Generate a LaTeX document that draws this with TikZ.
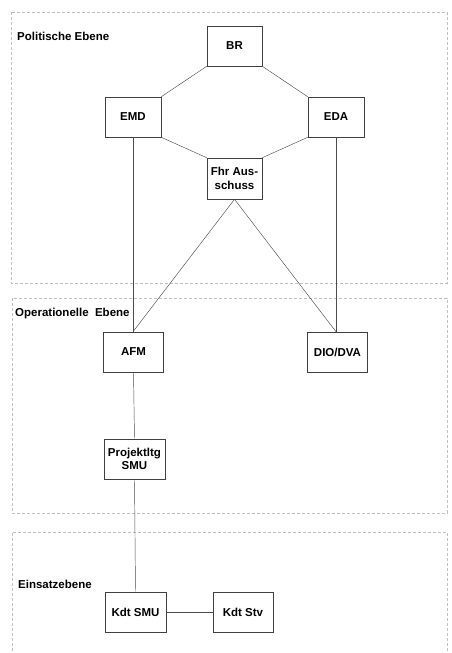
\documentclass[tikz,border=0pt]{standalone}
\usepackage{fontspec}
\setmainfont{Liberation Sans}
\begin{document}
\begin{tikzpicture}[x=1pt,y=-1pt,
  box/.style={draw=black!75,line width=0.55pt,minimum width=56pt,minimum height=40pt,inner sep=1pt,align=center,font=\bfseries\fontsize{11.5}{13.5}\selectfont},
  lvl/.style={anchor=west,inner sep=0pt,font=\bfseries\fontsize{11.5}{13.5}\selectfont},
  conn/.style={draw=black!70,line width=0.45pt},
  sect/.style={draw=black!25,line width=0.4pt,dashed,dash pattern=on 3pt off 2pt}]
\useasboundingbox (0,0) rectangle (451,653);
% sections
\draw[sect] (11,12) rectangle (447,283);
\draw[sect] (12,298) rectangle (447,513);
\draw[sect] (12,651) -- (12,532) -- (447,532) -- (447,653);
% labels
\node[lvl] (l1) at (17,36) {Politische Ebene};
\node[lvl] (l2) at (15,314) {Operationelle\ \ Ebene};
\node[lvl] (l3) at (18,584) {Einsatzebene};
% boxes
\node[box,minimum width=55pt] (br) at (234.5,46) {BR};
\node[box] (emd) at (133,117) {EMD};
\node[box] (eda) at (336,117) {EDA};
\node[box,minimum width=55pt,minimum height=41pt] (fhr) at (234.5,178.5) {Fhr Aus-\\schuss};
\node[box,minimum width=60pt] (afm) at (133.5,352) {AFM};
\node[box,minimum width=60pt] (dio) at (337.5,352) {DIO/DVA};
\node[box,minimum width=61pt] (proj) at (134.5,459) {Projektltg\\SMU};
\node[box,minimum width=61pt] (ksmu) at (135.5,612) {Kdt SMU};
\node[box,minimum width=60pt] (kstv) at (243,612) {Kdt Stv};
% connectors
\draw[conn] (br.south west) -- (emd.north east);
\draw[conn] (br.south east) -- (eda.north west);
\draw[conn] (emd.south east) -- (fhr.north west);
\draw[conn] (eda.south west) -- (fhr.north east);
\draw[conn] (emd.south) -- (emd.south |- afm.north);
\draw[conn] (eda.south) -- (eda.south |- dio.north);
\draw[conn] (fhr.south) -- (emd.south |- afm.north);
\draw[conn] (fhr.south) -- (eda.south |- dio.north);
\draw[conn] (afm.south) -- (proj.north);
\draw[conn] (proj.south) -- (ksmu.north);
\draw[conn] (ksmu.east) -- (kstv.west);
\end{tikzpicture}
\end{document}
